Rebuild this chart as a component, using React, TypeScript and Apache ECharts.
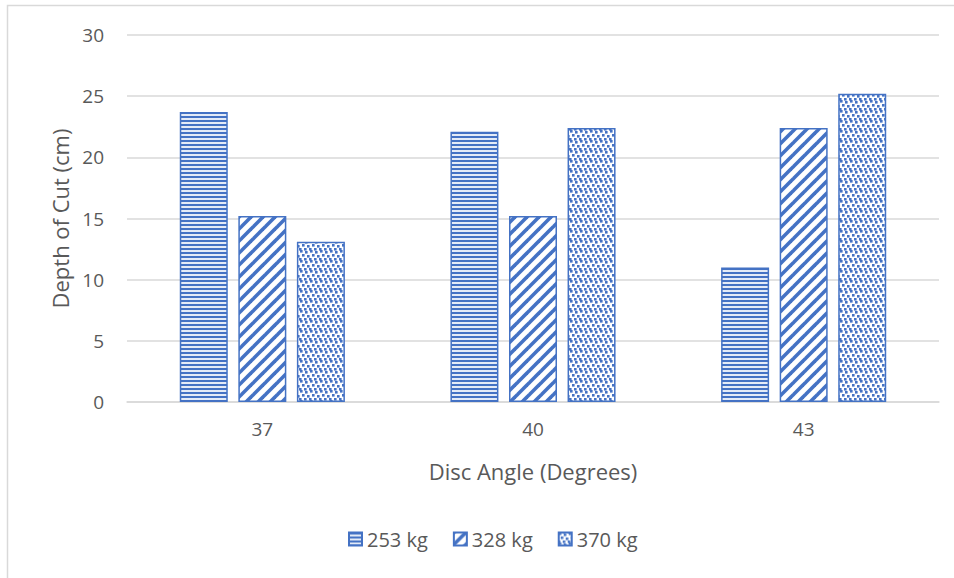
import React, { useEffect, useRef } from "react";
import * as echarts from "echarts";

const categories = ["37", "40", "43"];
const seriesNames = ["253 kg", "328 kg", "370 kg"];
const values253 = [23.7, 22.1, 11.0];
const values328 = [15.2, 15.2, 22.4];
const values370 = [13.1, 22.4, 25.2];
const yTicks = [0, 5, 10, 15, 20, 25, 30];

const BLUE = "#4472C4";

function makeTile(kind: string): HTMLCanvasElement {
  const c = document.createElement("canvas");
  if (kind === "h") {
    c.width = 4;
    c.height = 4;
    const g = c.getContext("2d")!;
    g.fillStyle = "#e4ebf7";
    g.fillRect(0, 0, 4, 4);
    g.fillStyle = BLUE;
    g.fillRect(0, 0, 4, 2);
  } else if (kind === "d") {
    c.width = 12;
    c.height = 12;
    const g = c.getContext("2d")!;
    g.fillStyle = "#ffffff";
    g.fillRect(0, 0, 12, 12);
    g.strokeStyle = BLUE;
    g.lineWidth = 3.6;
    for (const k of [0, 12, 24]) {
      g.beginPath();
      g.moveTo(-2, k + 2);
      g.lineTo(k + 2, -2);
      g.stroke();
    }
  } else {
    c.width = 10;
    c.height = 10;
    const g = c.getContext("2d")!;
    g.fillStyle = "#ffffff";
    g.fillRect(0, 0, 10, 10);
    g.fillStyle = BLUE;
    const dots = [
      [0, 0],
      [5, 1],
      [2, 4],
      [7, 5],
      [4, 8],
      [9, 8],
    ];
    for (const [x, y] of dots) {
      for (const dx of [-10, 0, 10]) {
        for (const dy of [-10, 0, 10]) {
          g.fillRect(x + dx, y + dy, 2.6, 2.6);
        }
      }
    }
  }
  return c;
}

export default function App() {
  const ref = useRef<HTMLDivElement>(null);
  useEffect(() => {
    if (!ref.current) return;
    const chart = echarts.init(ref.current, undefined, { renderer: "svg" });
    const pat = (kind: string) => {
      const t = makeTile(kind);
      return {
        image: t,
        repeat: "repeat",
        imageWidth: t.width,
        imageHeight: t.height,
      } as any;
    };
    const pats = [pat("h"), pat("d"), pat("s")];
    const data = [values253, values328, values370];
    const font = "'Open Sans', 'Liberation Sans', sans-serif";
    chart.setOption({
      animation: false,
      backgroundColor: "#ffffff",
      textStyle: { fontFamily: font },
      graphic: [
        {
          type: "rect",
          shape: { x: 7.5, y: 5.5, width: 1200, height: 1200 },
          style: { fill: "none", stroke: "#d9d9d9", lineWidth: 1.5 },
          silent: true,
        },
      ],
      grid: { left: 127, right: 15, top: 35, bottom: 176, containLabel: false },
      legend: {
        data: seriesNames,
        bottom: 24,
        left: 343,
        icon: "rect",
        itemWidth: 13,
        itemHeight: 13,
        itemGap: 25,
        textStyle: { color: "#595959", fontSize: 20, fontFamily: font },
      },
      xAxis: {
        type: "category",
        data: categories,
        name: "Disc Angle (Degrees)",
        nameLocation: "middle",
        nameGap: 58,
        nameTextStyle: { color: "#595959", fontSize: 22, fontFamily: font },
        axisLine: { lineStyle: { color: "#d9d9d9", width: 1.5 } },
        axisTick: { show: false },
        axisLabel: { color: "#595959", fontSize: 19, margin: 17, fontFamily: font },
      },
      yAxis: {
        type: "value",
        min: yTicks[0],
        max: yTicks[yTicks.length - 1],
        interval: 5,
        name: "Depth of Cut (cm)",
        nameLocation: "middle",
        nameGap: 54,
        nameTextStyle: { color: "#595959", fontSize: 22, fontFamily: font },
        axisLine: { show: false },
        axisTick: { show: false },
        splitLine: { lineStyle: { color: "#d9d9d9", width: 1.5 } },
        axisLabel: { color: "#595959", fontSize: 19, margin: 23, fontFamily: font },
      },
      series: seriesNames.map((name, i) => ({
        name,
        type: "bar",
        data: data[i],
        barWidth: 48,
        barGap: "22%",
        itemStyle: {
          color: pats[i],
          borderColor: BLUE,
          borderWidth: 1.5,
        },
      })),
    });
    return () => chart.dispose();
  }, []);
  return (
    <div
      ref={ref}
      style={{ position: "fixed", left: 0, top: 0, width: 954, height: 578, background: "#fff" }}
    />
  );
}
